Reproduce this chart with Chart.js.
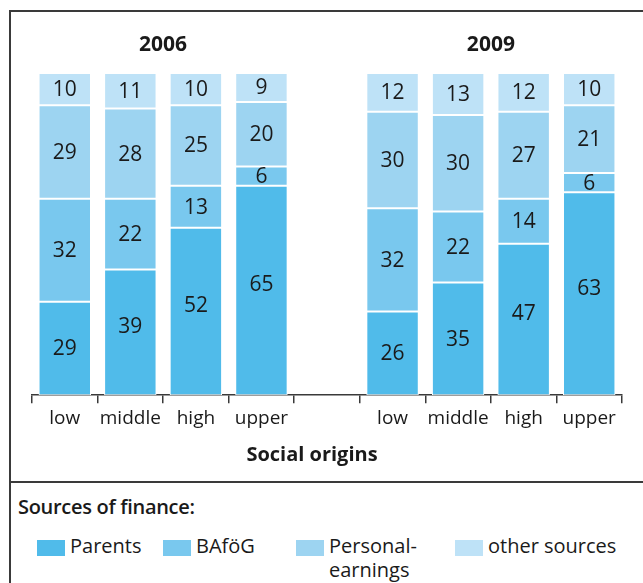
<!DOCTYPE html>
<html>
<head>
<meta charset="utf-8">
<script src="https://cdn.jsdelivr.net/npm/chart.js@4.4.1/dist/chart.umd.min.js"></script>
<style>
	body { margin: 0; background: #fff; font-family: "Open Sans", sans-serif; color: #1a1a1a; }
	#frame { position: absolute; left: 9px; top: 10px; width: 700px; height: 700px; border: 2px solid #3a3a3a; box-sizing: border-box; }
	#rule { position: absolute; left: 9px; top: 481px; width: 700px; height: 2px; background: #3a3a3a; }
	#wrap { position: absolute; left: 0; top: 0; width: 643px; height: 480px; }
	#legend-title { position: absolute; left: 18px; top: 493px; font-size: 20px; font-weight: 600; letter-spacing: -0.3px; }
	.item { position: absolute; top: 536px; font-size: 20px; line-height: 24px; }
	.item span.box { position: absolute; left: 0; top: 4px; width: 28px; height: 16px; }
	.item span.txt { position: absolute; left: 33px; top: -2px; white-space: nowrap; }
</style>
</head>
<body>
<div id="frame"></div>
<div id="wrap"><canvas id="mycanvas" width="643" height="480"></canvas></div>
<div id="rule"></div>
<div id="legend-title">Sources of finance:</div>
<div id="legend"></div>
<script>
	// categories: four social origins per year, with an empty slot between the years
	var origins = ['low', 'middle', 'high', 'upper', '', 'low', 'middle', 'high', 'upper'];
	var years = ['2006', '2009'];
	var axisTitle = 'Social origins';

	// shares in percent, 2006 then 2009 (null = gap)
	var parents  = [29, 39, 52, 65, null, 26, 35, 47, 63];
	var bafoeg   = [32, 22, 13, 6, null, 32, 22, 14, 6];
	var personal = [29, 28, 25, 20, null, 30, 30, 27, 21];
	var other    = [10, 11, 10, 9, null, 12, 13, 12, 10];

	var sourceNames = ['Parents', 'BAföG', 'Personal-\nearnings', 'other sources'];
	var colours = ['#50bbea', '#79c8ee', '#9dd4f1', '#bee2f7'];

	var series = [parents, bafoeg, personal, other];
	var datasets = [];
	for (var i in series) {
		datasets.push({
			label: sourceNames[i].replace('\n', ' '),
			data: series[i],
			backgroundColor: colours[i],
			borderColor: '#ffffff',
			borderWidth: 1,
			borderSkipped: false,
			barPercentage: 0.8,
			categoryPercentage: 1.0
		});
	}

	// numbers in the middle of each segment, year headings over each group, axis title
	var labelsPlugin = {
		id: 'segmentLabels',
		afterDatasetsDraw: function(chart) {
			var ctx = chart.ctx;
			ctx.save();
			ctx.fillStyle = '#1a1a1a';
			ctx.textAlign = 'center';
			ctx.textBaseline = 'middle';
			ctx.font = '21px "Open Sans", sans-serif';
			chart.data.datasets.forEach(function(ds, di) {
				var meta = chart.getDatasetMeta(di);
				meta.data.forEach(function(bar, j) {
					if (ds.data[j] == null) return;
					var h = bar.base - bar.y;
					var mid = (bar.y + bar.base) / 2 - (h > 120 ? 6 : 0);
					ctx.fillText(String(ds.data[j]), bar.x, mid + 1);
				});
			});
			var xs = chart.scales.x;
			ctx.font = 'bold 21px "Open Sans", sans-serif';
			ctx.fillText(years[0], (xs.getPixelForValue(1) + xs.getPixelForValue(2)) / 2, 45);
			ctx.fillText(years[1], (xs.getPixelForValue(6) + xs.getPixelForValue(7)) / 2, 45);
			ctx.font = 'bold 20px "Open Sans", sans-serif';
			ctx.fillText(axisTitle, (xs.left + xs.right) / 2 - 15, xs.top + 60);
			ctx.restore();
		}
	};

	var ctx = document.getElementById('mycanvas');
	var barGraph = new Chart(ctx, {
		type: 'bar',
		data: { labels: origins, datasets: datasets },
		options: {
			responsive: false,
			animation: false,
			layout: { padding: { left: 32, right: 21, top: 73, bottom: 46 } },
			plugins: { legend: { display: false }, tooltip: { enabled: false } },
			scales: {
				x: {
					stacked: true,
					border: { display: true, color: '#3a3a3a', width: 1.5 },
					grid: { display: true, offset: true, drawOnChartArea: false, drawTicks: true, tickLength: 8, color: '#3a3a3a', lineWidth: 1.5 },
					ticks: { color: '#1a1a1a', font: { family: '"Open Sans", sans-serif', size: 19 }, padding: 4, maxRotation: 0, autoSkip: false }
				},
				y: { stacked: true, display: false, min: 0, max: 100 }
			}
		},
		plugins: [labelsPlugin]
	});

	// legend below the rule
	var legend = document.getElementById('legend');
	var lefts = [37, 163, 296, 455];
	for (var k in sourceNames) {
		var item = document.createElement('div');
		item.className = 'item';
		item.style.left = lefts[k] + 'px';
		item.innerHTML = '<span class="box" style="background:' + colours[k] + '"></span>' +
			'<span class="txt">' + sourceNames[k].replace('\n', '<br>') + '</span>';
		legend.appendChild(item);
	}
</script>
</body>
</html>
